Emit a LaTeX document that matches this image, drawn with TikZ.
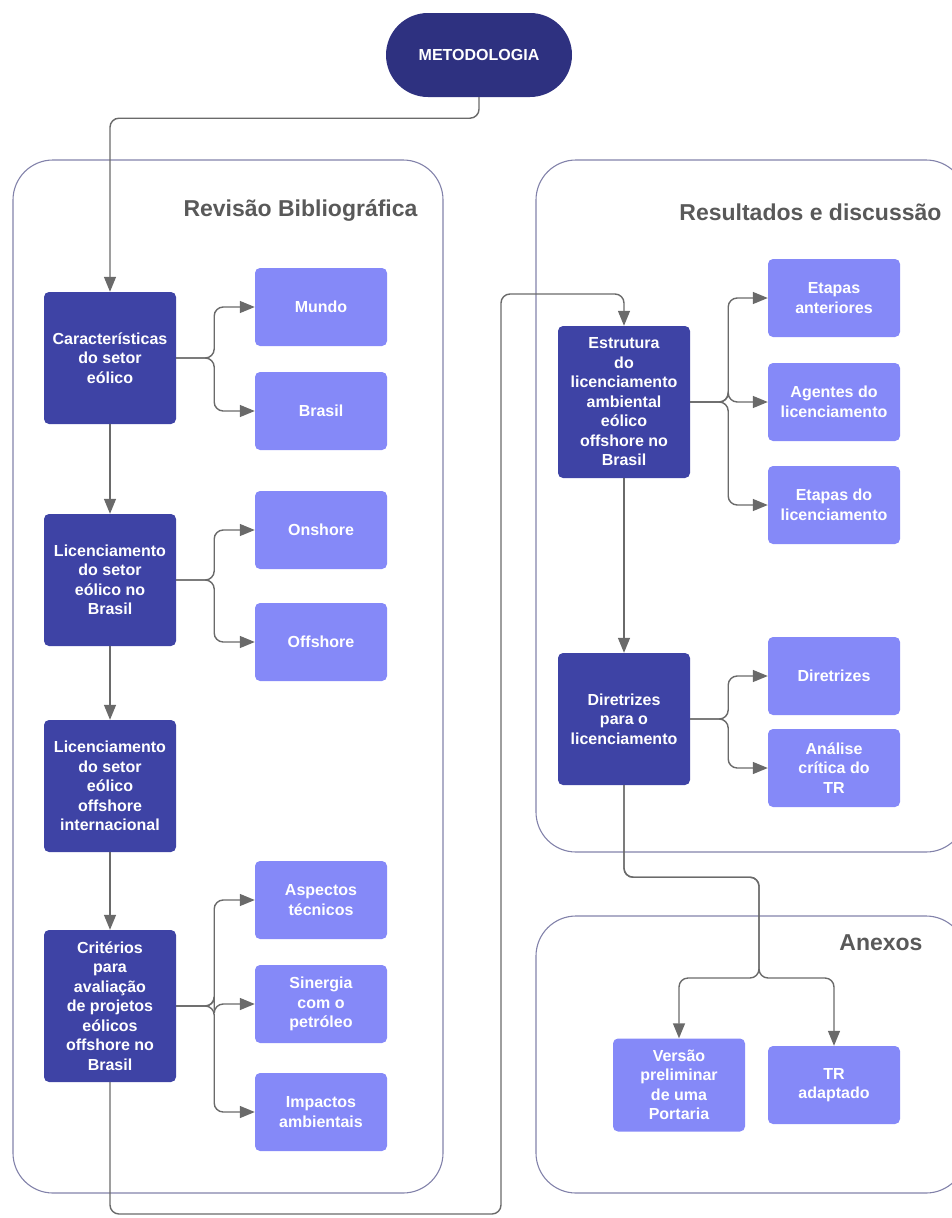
\documentclass[tikz,border=0pt]{standalone}
\usepackage{fontspec}
\setsansfont{Liberation Sans}
\usetikzlibrary{arrows.meta}

\definecolor{pillblue}{HTML}{2E3180}
\definecolor{darkbox}{HTML}{3E43A5}
\definecolor{lightbox}{HTML}{8589F8}
\definecolor{framecol}{HTML}{8282AA}
\definecolor{conncol}{HTML}{6A6A6A}
\definecolor{titlegray}{HTML}{595959}

\begin{document}
\begin{tikzpicture}[x=1pt,y=-1pt,font=\sffamily\bfseries,>={Triangle[length=15pt,width=12pt]},
   boxtext/.style={align=center,inner sep=0pt,text=white,
        font=\sffamily\bfseries\fontsize{16}{19.5}\selectfont},
   darkbox/.style={boxtext,fill=darkbox,rounded corners=5pt,minimum width=132pt,minimum height=132pt},
   lightbox/.style={boxtext,fill=lightbox,rounded corners=5pt,minimum width=132pt,minimum height=78pt},
   panel/.style={draw=framecol,line width=1.1pt,rounded corners=40pt},
   heading/.style={anchor=east,text=titlegray,font=\sffamily\bfseries\fontsize{23}{28}\selectfont},
   link/.style={draw=conncol,line width=1.4pt,->,rounded corners=9pt}]
   \useasboundingbox (0,0) rectangle (952,1218);
   \clip (0,0) rectangle (952,1218);
% Panels (drawn first, below everything else)
   \draw [panel] (13,160) rectangle (443,1193);
   \draw [panel] (536,160) rectangle (966,852);
   \draw [panel] (536,916) rectangle (966,1193);
   \node [heading] (revtitle) at (421,211) {Revisão Bibliográfica};
   \node [heading] (restitle) at (945,212) {Resultados e discussão};
   \node [heading] (anxtitle) at (926,943) {Anexos};
% Top node
   \node [boxtext,fill=pillblue,rounded corners=42pt,minimum width=186pt,minimum height=84pt]
        (met) at (479,55) {METODOLOGIA};
% Revisao bibliografica
   \node [darkbox] (carac) at (110,358) {Características\\do setor\\eólico};
   \node [darkbox] (licbr) at (110,580) {Licenciamento\\do setor\\eólico no\\Brasil};
   \node [darkbox] (licint) at (110,786) {Licenciamento\\do setor\\eólico\\offshore\\internacional};
   \node [darkbox,minimum height=152pt] (crit) at (110,1006)
        {Critérios\\para\\avaliação\\de projetos\\eólicos\\offshore no\\Brasil};
   \node [lightbox] (mundo) at (321,307) {Mundo};
   \node [lightbox] (brasil) at (321,411) {Brasil};
   \node [lightbox] (onsh) at (321,530) {Onshore};
   \node [lightbox] (offsh) at (321,642) {Offshore};
   \node [lightbox] (aspec) at (321,900) {Aspectos\\técnicos};
   \node [lightbox] (siner) at (321,1004) {Sinergia\\com o\\petróleo};
   \node [lightbox] (impac) at (321,1112) {Impactos\\ambientais};
% Resultados e discussao
   \node [darkbox,minimum height=152pt] (estr) at (624,402)
        {Estrutura\\do\\licenciamento\\ambiental\\eólico\\offshore no\\Brasil};
   \node [darkbox] (dire) at (624,719) {Diretrizes\\para o\\licenciamento};
   \node [lightbox] (etant) at (834,298) {Etapas\\anteriores};
   \node [lightbox] (agent) at (834,402) {Agentes do\\licenciamento};
   \node [lightbox] (etlic) at (834,505) {Etapas do\\licenciamento};
   \node [lightbox] (diret) at (834,676) {Diretrizes};
   \node [lightbox] (anali) at (834,768) {Análise\\crítica do\\TR};
% Anexos
   \node [lightbox,minimum height=93pt] (vers) at (679,1085) {Versão\\preliminar\\de uma\\Portaria};
   \node [lightbox] (tradap) at (834,1085) {TR\\adaptado};
% Connectors
   \draw [link] (met.south) -- ++(0,21) -| (carac.north);
   \draw [link] (carac.south) -- (licbr.north);
   \draw [link] (licbr.south) -- (licint.north);
   \draw [link] (licint.south) -- (crit.north);
   \foreach \from/\to in {carac/mundo,carac/brasil,licbr/onsh,licbr/offsh,
        crit/aspec,crit/siner,crit/impac,estr/etant,estr/agent,estr/etlic,
        dire/diret,dire/anali}
      \draw [link] (\from.east) -- ++(38,0) |- (\to.west);
   \coordinate (loopbot) at (501,1214);
   \coordinate (looptop) at (501,294);
   \draw [link] (crit.south) |- (loopbot) -- (looptop) -| (estr.north);
   \draw [link] (estr.south) -- (dire.north);
   \coordinate (split) at (759,978);
   \draw [link] (dire.south) -- ++(0,92) -| (split) -| (vers.north);
   \draw [link] (dire.south) -- ++(0,92) -| (split) -| (tradap.north);
\end{tikzpicture}
\end{document}
